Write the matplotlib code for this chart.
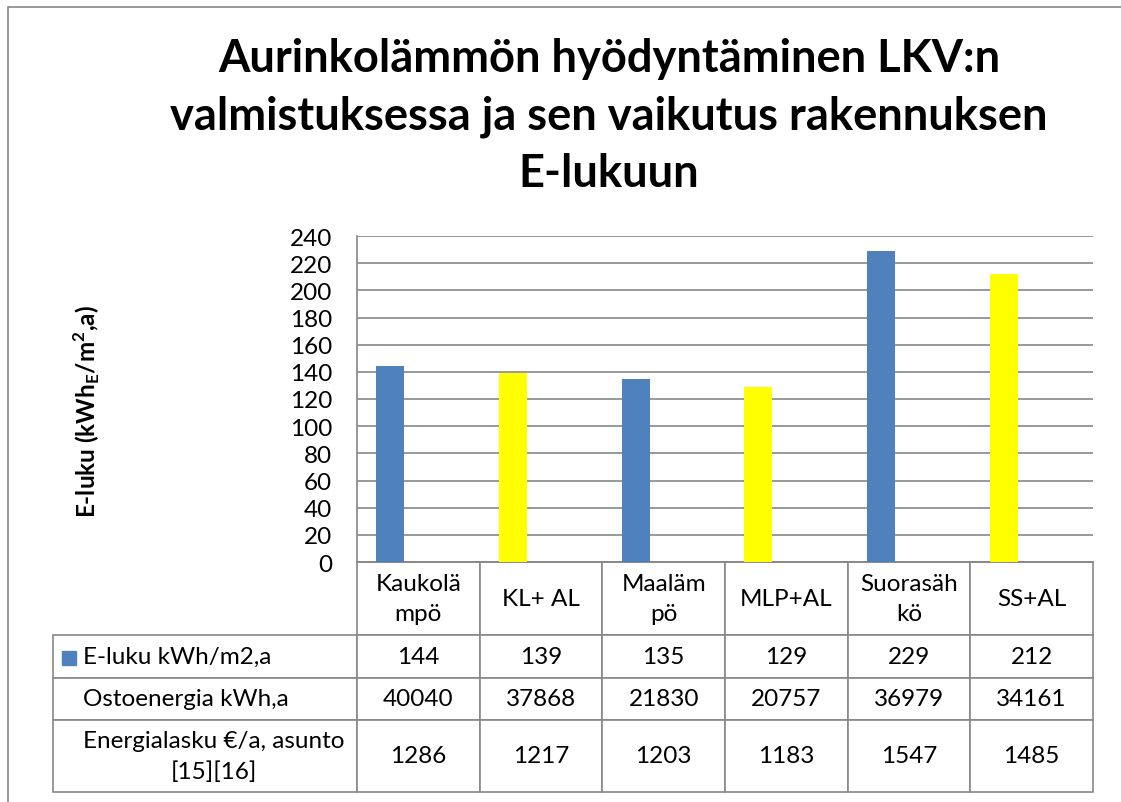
import matplotlib
matplotlib.use('Agg')
import matplotlib.pyplot as plt
from matplotlib.table import Table
from matplotlib.patches import Rectangle

plt.rcParams['font.family'] = ['Lato', 'DejaVu Sans']
plt.rcParams['mathtext.fontset'] = 'custom'
plt.rcParams['mathtext.rm'] = 'Lato'
plt.rcParams['mathtext.bf'] = 'Lato:bold'

categories = ['Kaukolä\nmpö', 'KL+ AL', 'Maaläm\npö', 'MLP+AL', 'Suorasäh\nkö', 'SS+AL']
row_labels = ['E-luku kWh/m2,a', 'Ostoenergia kWh,a', 'Energialasku €/a, asunto\n[15][16]']
e_luku = [144, 139, 135, 129, 229, 212]
ostoenergia = [40040, 37868, 21830, 20757, 36979, 34161]
energialasku = [1286, 1217, 1203, 1183, 1547, 1485]
y_ticks = list(range(0, 241, 20))

title = 'Aurinkolämmön hyödyntäminen LKV:n\nvalmistuksessa ja sen vaikutus rakennuksen\nE-lukuun'
ylabel = r'E-luku (kWh$_\mathbf{E}$/m$^\mathbf{2}$,a)'

BLUE = '#4F81BD'
YELLOW = '#FFFF00'
GRID = '#888888'
bar_colors = [BLUE, YELLOW] * 3
FS = 17.5

W, H = 1121, 803
fig = plt.figure(figsize=(W / 100, H / 100), dpi=100)

# plot area in pixels: x 357..1093, y 237..563
AX_W, AX_H = 736, 326
ax = fig.add_axes([357 / W, 1 - 563 / H, AX_W / W, AX_H / H])
bw = 0.228  # excel cluster of 3 series, only the first one is visible
xs = [i - bw for i in range(len(e_luku))]
ax.bar(xs, e_luku, width=bw, color=bar_colors, zorder=3)
ax.set_xlim(-0.5, len(e_luku) - 0.5)
ax.set_ylim(0, 240)
ax.set_yticks(y_ticks)
ax.set_xticks([])
ax.yaxis.grid(True, color=GRID, linewidth=1.2)
ax.set_axisbelow(True)
ax.tick_params(axis='y', length=0, pad=18, labelsize=FS)
for s in ['top', 'right']:
    ax.spines[s].set_visible(False)
for s in ['left', 'bottom']:
    ax.spines[s].set_color(GRID)
    ax.spines[s].set_linewidth(1.2)

ax.set_ylabel(ylabel, fontsize=17.5, fontweight='bold')
ax.yaxis.set_label_coords(-0.3465, 0.466)

# data table under the plot (sizes in axes units)
row_h = [h / AX_H for h in (73, 43, 42, 72)]
col_w = 1 / len(categories)
lab_w = 304 / AX_W
tbl = Table(ax, bbox=[0, -sum(row_h), 1, sum(row_h)])
for j, lab in enumerate(categories):
    tbl.add_cell(0, j, width=col_w, height=row_h[0], text=lab, loc='center')
data_rows = [e_luku, ostoenergia, energialasku]
for i, (lab, vals) in enumerate(zip(row_labels, data_rows), start=1):
    tbl.add_cell(i, -1, width=lab_w, height=row_h[i], text=lab, loc='left')
    for j, v in enumerate(vals):
        tbl.add_cell(i, j, width=col_w, height=row_h[i], text=str(v), loc='center')
tbl.auto_set_font_size(False)
tbl.set_fontsize(FS)
for cell in tbl.get_celld().values():
    cell.set_edgecolor(GRID)
    cell.set_linewidth(1.2)
    cell.get_text().set_linespacing(1.5)
    cell.get_text().set_multialignment('center')
ax.add_table(tbl)

# legend key in front of the first row label
fig.add_artist(Rectangle((62 / W, 1 - 666 / H), 14 / W, 14 / H,
                         transform=fig.transFigure, color=BLUE))

# chart frame (only top and left edge inside the picture)
fig.add_artist(Rectangle((8 / W, -0.1), 1.2, 1.1 - 8 / H, transform=fig.transFigure,
                         fill=False, edgecolor=GRID, linewidth=1.2, clip_on=False))

fig.text(609 / W, 1 - 38 / H, title, ha='center', va='top', fontsize=32.6,
         fontweight='bold', linespacing=1.45, multialignment='center')

fig.savefig('out.png', dpi=100)
